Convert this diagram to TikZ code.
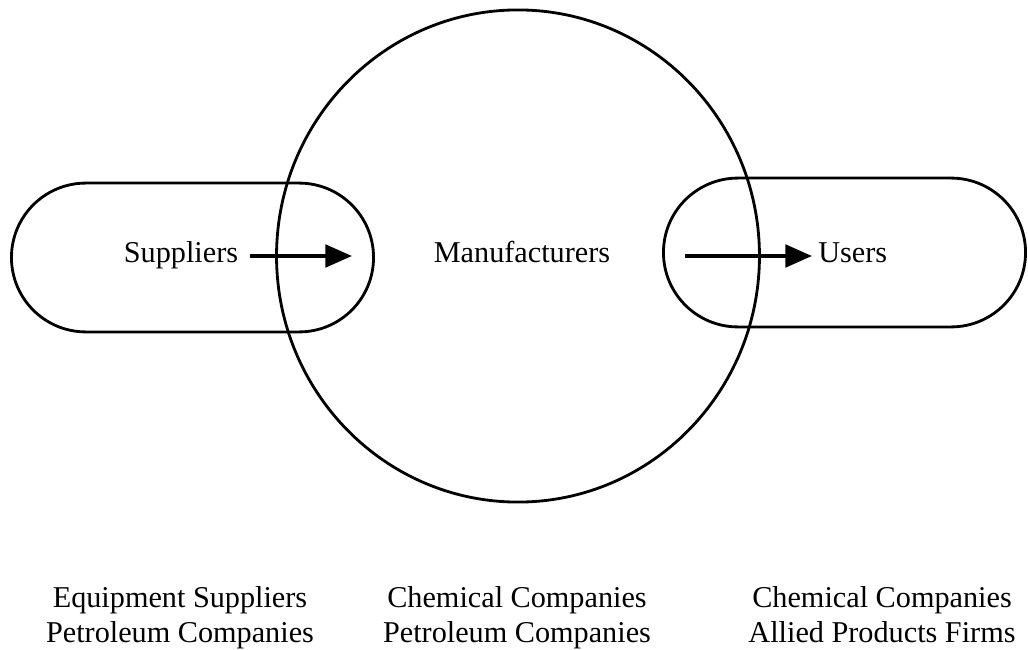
\documentclass[tikz,border=0pt]{standalone}
\usepackage{fontspec}
\setmainfont{Liberation Serif}
\usetikzlibrary{
  positioning,
  shapes.misc,
  shapes.geometric,
  arrows.meta
}

\tikzset{
  pill/.style={draw, rounded rectangle, line width=2pt, minimum width=9.05cm, minimum height=3.72cm, inner sep=0pt},
  flow/.style={-{Triangle[length=19pt, width=16pt]}, line width=2.8pt},
  word/.style={font=\fontsize{21.5}{25}\selectfont, inner sep=0pt},
  group/.style={font=\fontsize{21.5}{24.8}\selectfont, align=center, inner sep=0pt, anchor=north}
}

\begin{document}
\begin{tikzpicture}[x=0.025cm, y=-0.025cm]
    \useasboundingbox (0,0) rectangle (1028,650);

    % the two ends and the big ring in the middle
    \node[pill] (supplyend) at (192.5,257.5) {};
    \node[pill] (userend) at (844.5,252.5) {};
    \node[draw, ellipse, line width=2pt, minimum width=12.07cm, minimum height=12.3cm] (ring) at (518,256) {};

    \node[word, anchor=base] (supp) at (181,262) {Suppliers};
    \node[word, anchor=base] (manu) at (522,262) {Manufacturers};
    \node[word, anchor=base west] (users) at (818,262) {Users};

    % flow from left to right
    \coordinate (intip) at (352,256);
    \coordinate (outtail) at (685,256);
    \draw[flow, shorten <=0.3cm] (supp.east |- intip) -- (intip);
    \draw[flow, shorten >=0.15cm] (outtail) -- (users.west |- outtail);

    \node[group] (supplist) at (180,586) {Equipment Suppliers\\Petroleum Companies};
    \node[group] (manulist) at (517,586) {Chemical Companies\\Petroleum Companies};
    \node[group] (userlist) at (882,586) {Chemical Companies\\Allied Products Firms};
\end{tikzpicture}
\end{document}
